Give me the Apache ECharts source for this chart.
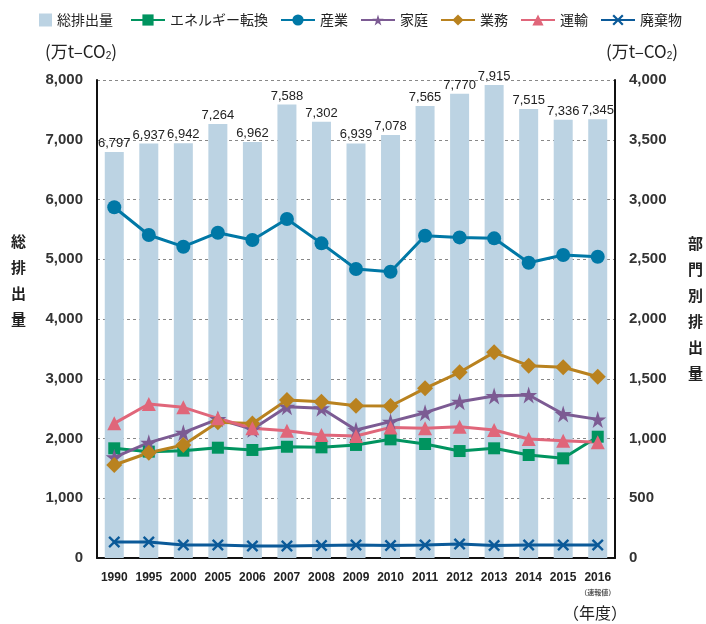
<!DOCTYPE html>
<html>
<head>
<meta charset="utf-8">
<script src="https://cdn.jsdelivr.net/npm/echarts@6/dist/echarts.min.js"></script>
<style>
  html, body { margin: 0; padding: 0; background: #fff; }
  #chart1 { width: 706px; height: 624px; }
</style>
</head>
<body>
<div id="chart1"></div>
<script>
(function(){

    var years = ['1990','1995','2000','2005','2006','2007','2008','2009','2010','2011','2012','2013','2014','2015','2016'];
    // 総排出量 (左軸)
    var total = [6797, 6937, 6942, 7264, 6962, 7588, 7302, 6939, 7078, 7565, 7770, 7915, 7515, 7336, 7345];
    // 部門別排出量 (右軸)
    var energy    = [918, 890, 898, 923, 904, 931, 926, 946, 993, 954, 895, 918, 862, 834, 1015];
    var industry  = [2935, 2703, 2605, 2722, 2661, 2837, 2633, 2418, 2396, 2697, 2683, 2675, 2471, 2535, 2521];
    var household = [843, 965, 1049, 1163, 1077, 1266, 1253, 1071, 1141, 1216, 1308, 1356, 1364, 1205, 1160];
    var business  = [778, 881, 946, 1135, 1125, 1322, 1308, 1275, 1272, 1420, 1554, 1721, 1609, 1596, 1517];
    var transport = [1127, 1289, 1261, 1169, 1085, 1065, 1029, 1021, 1093, 1085, 1099, 1071, 996, 982, 968];
    var waste     = [134, 134, 109, 109, 100, 100, 105, 109, 105, 109, 117, 105, 109, 109, 109];

    var num = '"Liberation Sans", Arial, sans-serif';
    var cjk = '"Noto Sans CJK JP", sans-serif';

    var starPath = 'path://M50,0 L61,35 L98,35 L68,57 L79,91 L50,70 L21,91 L32,57 L2,35 L39,35 Z';
    var crossPath = 'path://M0,14 L14,0 L50,36 L86,0 L100,14 L64,50 L100,86 L86,100 L50,64 L14,100 L0,86 L36,50 Z';

    function lineSeries(name, data, color, symbol, size){
        return {
            name: name,
            type: 'line',
            yAxisIndex: 1,
            data: data,
            symbol: symbol,
            symbolSize: size,
            lineStyle: { color: color, width: 3 },
            itemStyle: { color: color },
            z: 3
        };
    }

    function unitLabel(x){
        return {
            type: 'text', left: x, top: 43,
            style: {
                text: '(万t–CO{sub|2})',
                font: '17px ' + cjk,
                fill: '#222',
                rich: { sub: { fontSize: 10, fill: '#222', padding: [9, 0, 0, 0] } }
            }
        };
    }

    var chart1 = echarts.init(document.getElementById('chart1'));

    var option = {
        animation: false,
        textStyle: { fontFamily: cjk },
        legend: [
            {
                left: 39, top: 13, padding: 0,
                itemWidth: 13, itemHeight: 13,
                icon: 'rect',
                textStyle: { fontSize: 14, color: '#222', fontFamily: cjk },
                data: ['総排出量']
            },
            {
                left: 130, top: 13, padding: 0,
                itemWidth: 34, itemHeight: 14,
                itemGap: 12,
                textStyle: { fontSize: 14, color: '#222', fontFamily: cjk },
                data: ['エネルギー転換','産業','家庭','業務','運輸','廃棄物']
            }
        ],
        grid: { left: 97, right: 91, top: 80, bottom: 66 },
        xAxis: {
            type: 'category',
            data: years,
            axisLine: { lineStyle: { color: '#111', width: 2 } },
            axisTick: { show: false },
            axisLabel: {
                interval: 0,
                margin: 14,
                fontFamily: num,
                fontSize: 12,
                fontWeight: 'bold',
                color: '#222',
                formatter: function(v){
                    return v == '2016' ? v + '\n{s|（速報値）}' : v;
                },
                rich: {
                    s: { fontSize: 7, color: '#555', fontFamily: cjk, padding: [5, 0, 0, 0] }
                }
            }
        },
        yAxis: [
            {
                type: 'value',
                min: 0, max: 8000, interval: 1000,
                axisLine: { show: true, lineStyle: { color: '#111', width: 2 } },
                axisTick: { show: false },
                axisLabel: {
                    margin: 14,
                    fontFamily: num,
                    fontSize: 15,
                    fontWeight: 'bold',
                    color: '#333',
                    formatter: function(v){ return echarts.format.addCommas(v); }
                },
                splitLine: { show: true, lineStyle: { color: '#888', type: [3, 3], width: 1 } }
            },
            {
                type: 'value',
                min: 0, max: 4000, interval: 500,
                axisLine: { show: true, lineStyle: { color: '#111', width: 2 } },
                axisTick: { show: false },
                axisLabel: {
                    margin: 14,
                    fontFamily: num,
                    fontSize: 15,
                    fontWeight: 'bold',
                    color: '#333',
                    formatter: function(v){ return echarts.format.addCommas(v); }
                },
                splitLine: { show: false }
            }
        ],
        series: [
            {
                name: '総排出量',
                type: 'bar',
                data: total,
                barWidth: 19,
                itemStyle: { color: '#bcd3e3' },
                label: {
                    show: true,
                    position: 'top',
                    distance: 2,
                    fontFamily: num,
                    fontSize: 13,
                    color: '#222',
                    formatter: function(p){ return echarts.format.addCommas(p.value); }
                },
                z: 1
            },
            lineSeries('エネルギー転換', energy, '#00945f', 'rect', 12),
            lineSeries('産業', industry, '#0078a6', 'circle', 14),
            lineSeries('家庭', household, '#7c5b93', starPath, 17),
            lineSeries('業務', business, '#b9821f', 'diamond', 16),
            lineSeries('運輸', transport, '#e0667a', 'triangle', 14),
            lineSeries('廃棄物', waste, '#0b5a99', crossPath, 12)
        ],
        graphic: [
            unitLabel(45),
            unitLabel(606),
            {
                type: 'text', left: 11, top: 228,
                style: {
                    text: '総\n排\n出\n量',
                    font: 'bold 15px ' + cjk,
                    lineHeight: 26,
                    fill: '#222'
                }
            },
            {
                type: 'text', left: 688, top: 230,
                style: {
                    text: '部\n門\n別\n排\n出\n量',
                    font: 'bold 15px ' + cjk,
                    lineHeight: 26,
                    fill: '#222'
                }
            },
            {
                type: 'text', left: 563, top: 605,
                style: {
                    text: '（年度）',
                    font: '16px ' + cjk,
                    fill: '#222'
                }
            }
        ]
    };

    chart1.setOption(option);
    window.onresize = chart1.resize;

})();
</script>
</body>
</html>
